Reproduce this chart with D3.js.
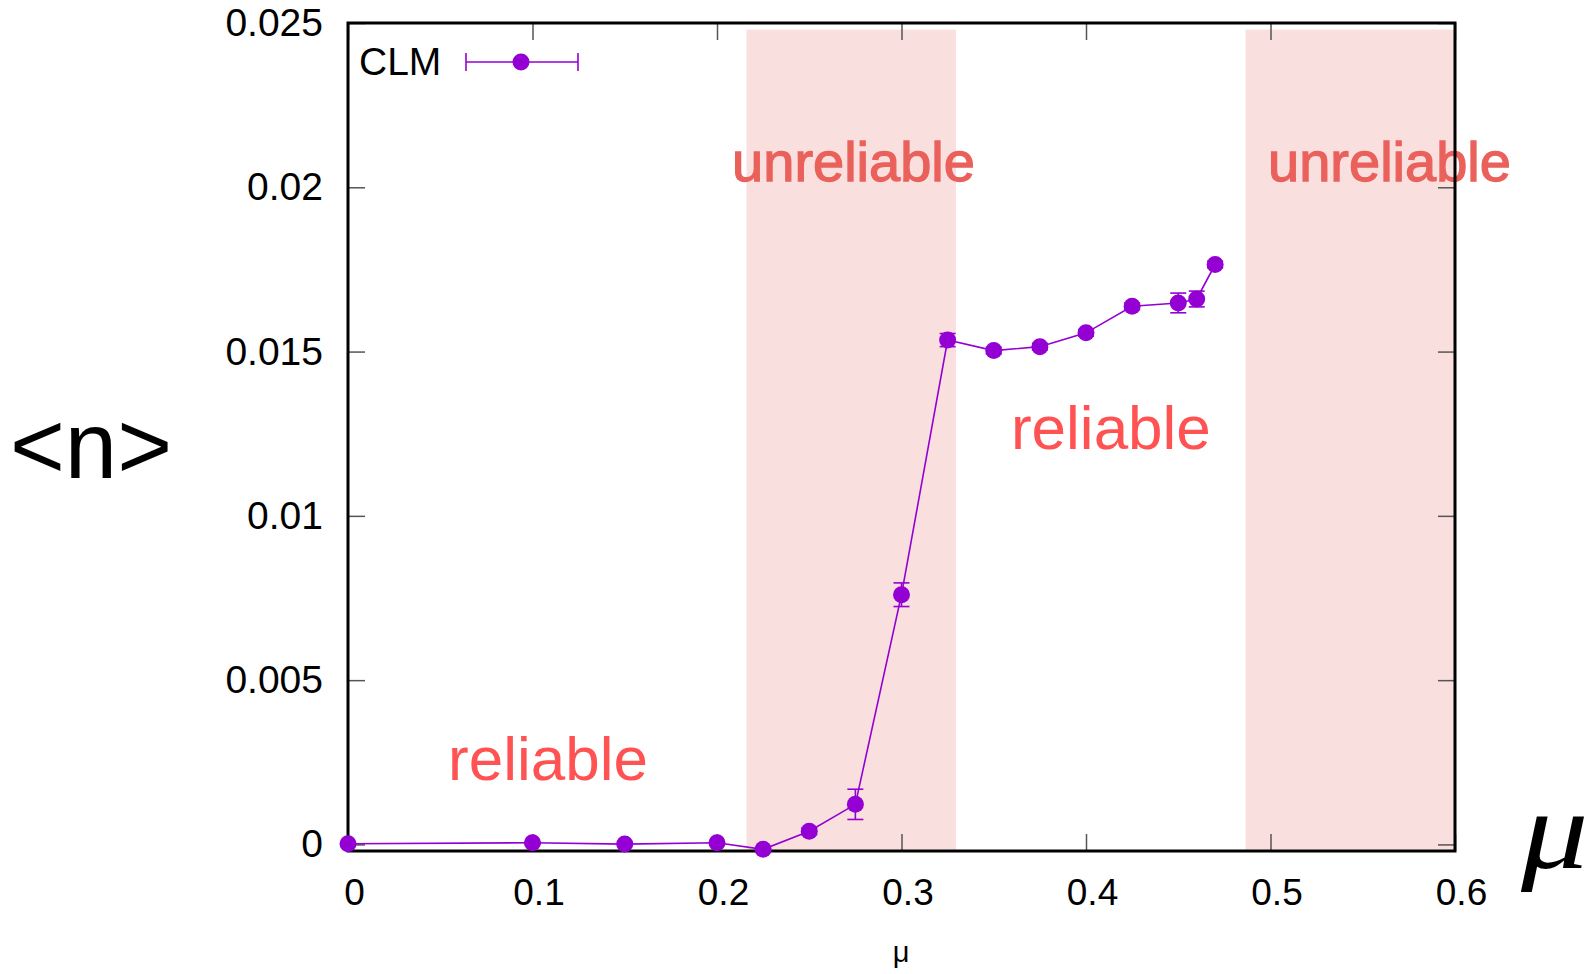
<!DOCTYPE html>
<html>
<head>
<meta charset="utf-8">
<script src="https://cdn.jsdelivr.net/npm/d3@7"></script>
<style>
  body { margin: 0; background: #fff; }
  svg { display: block; }
</style>
</head>
<body>
<div id="chart"></div>
<script>
// Data
const muValues = [0, 0.1, 0.15, 0.2, 0.225, 0.25, 0.275, 0.3, 0.325, 0.35, 0.375, 0.4, 0.425, 0.45, 0.46, 0.47];
const nValues = [0.00002, 0.00005, 0.00001, 0.00005, -0.00015, 0.0004, 0.00122, 0.0076, 0.01535, 0.01503, 0.01515, 0.01557, 0.01638, 0.01648, 0.0166, 0.01765];
const nErrors = [0.00002, 0.00003, 0.00002, 0.00003, 0.00003, 0.0001, 0.00046, 0.00036, 0.0002, 0.0001, 0.0001, 0.0001, 0.0001, 0.0003, 0.00024, 0.0001];
const xTicks = [0, 0.1, 0.2, 0.3, 0.4, 0.5, 0.6];
const xTickLabels = ["0", "0.1", "0.2", "0.3", "0.4", "0.5", "0.6"];
const yTicks = [0, 0.005, 0.01, 0.015, 0.02, 0.025];
const yTickLabels = ["0", "0.005", "0.01", "0.015", "0.02", "0.025"];
const unreliableBands = [[0.216, 0.3295], [0.4865, 0.6]];
const regionLabels = [
    { text: "unreliable", mu: 0.274, n: 0.0202, kind: "bad" },
    { text: "unreliable", mu: 0.5645, n: 0.0202, kind: "bad" },
    { text: "reliable", mu: 0.1084, n: 0.00195, kind: "good" },
    { text: "reliable", mu: 0.4135, n: 0.01205, kind: "good" }
];
const seriesName = "CLM";

const width = 1593, height = 974;
const plot = { left: 348, right: 1455, top: 23, bottom: 851 };
const purple = "#9400d3";
const font = "'Liberation Sans', Arial, Helvetica, sans-serif";

const svg = d3.select("#chart")
    .append("svg")
    .attr("width", width)
    .attr("height", height);

// Scales
const x = d3.scaleLinear().domain([0, 0.6]).range([plot.left, plot.right]);
const y = d3.scaleLinear().domain([-0.0002, 0.025]).range([plot.bottom, plot.top]);

// Shaded bands
svg.selectAll("rect.band")
    .data(unreliableBands)
    .enter()
    .append("rect")
    .attr("class", "band")
    .attr("x", d => x(d[0]))
    .attr("width", d => x(d[1]) - x(d[0]))
    .attr("y", y(0.0248))
    .attr("height", plot.bottom - y(0.0248))
    .attr("fill", "#fadfdf");

// Region labels
const colorFor = d => d.kind === "bad" ? "#ea615c" : "#ff5252";
svg.selectAll("text.region")
    .data(regionLabels)
    .enter()
    .append("text")
    .attr("class", "region")
    .attr("x", d => x(d.mu))
    .attr("y", d => y(d.n))
    .attr("text-anchor", "middle")
    .attr("font-family", font)
    .attr("font-size", d => d.kind === "bad" ? 56 : 62)
    .attr("fill", colorFor)
    .attr("stroke", d => d.kind === "bad" ? colorFor(d) : "none")
    .attr("stroke-width", 1.3)
    .text(d => d.text);

// Axes with inward ticks
const tickLen = 17;
function styleAxis(g, size) {
    g.select(".domain").remove();
    g.selectAll(".tick line").attr("stroke", "#555").attr("stroke-width", 1.5);
    g.selectAll(".tick text").attr("fill", "#000").attr("font-family", font).attr("font-size", size);
}

svg.append("g")
    .attr("transform", `translate(0,${plot.bottom})`)
    .call(d3.axisBottom(x).tickValues(xTicks).tickSizeInner(-tickLen).tickSizeOuter(0)
        .tickPadding(28).tickFormat((d, i) => xTickLabels[i]))
    .call(styleAxis, 37)
    .selectAll(".tick text").attr("dx", 6);

svg.append("g")
    .attr("transform", `translate(0,${plot.top})`)
    .call(d3.axisTop(x).tickValues(xTicks).tickSizeInner(-tickLen).tickSizeOuter(0).tickFormat(""))
    .call(styleAxis, 37);

svg.append("g")
    .attr("transform", `translate(${plot.left},0)`)
    .call(d3.axisLeft(y).tickValues(yTicks).tickSizeInner(-tickLen).tickSizeOuter(0)
        .tickPadding(25).tickFormat((d, i) => yTickLabels[i]))
    .call(styleAxis, 39);

svg.append("g")
    .attr("transform", `translate(${plot.right},0)`)
    .call(d3.axisRight(y).tickValues(yTicks).tickSizeInner(-tickLen).tickSizeOuter(0).tickFormat(""))
    .call(styleAxis, 37);

// Frame
svg.append("rect")
    .attr("x", plot.left)
    .attr("y", plot.top)
    .attr("width", plot.right - plot.left)
    .attr("height", plot.bottom - plot.top)
    .attr("fill", "none")
    .attr("stroke", "#000")
    .attr("stroke-width", 3);

// Series
const points = muValues.map((m, i) => ({ mu: m, n: nValues[i], err: nErrors[i] }));

svg.append("path")
    .datum(points)
    .attr("fill", "none")
    .attr("stroke", purple)
    .attr("stroke-width", 1.6)
    .attr("d", d3.line().x(d => x(d.mu)).y(d => y(d.n)));

const cap = 8;
const bars = svg.selectAll("g.err")
    .data(points)
    .enter()
    .append("g")
    .attr("class", "err")
    .attr("stroke", purple)
    .attr("stroke-width", 1.6);

bars.append("line")
    .attr("x1", d => x(d.mu)).attr("x2", d => x(d.mu))
    .attr("y1", d => y(d.n - d.err)).attr("y2", d => y(d.n + d.err));
bars.append("line")
    .attr("x1", d => x(d.mu) - cap).attr("x2", d => x(d.mu) + cap)
    .attr("y1", d => y(d.n - d.err)).attr("y2", d => y(d.n - d.err));
bars.append("line")
    .attr("x1", d => x(d.mu) - cap).attr("x2", d => x(d.mu) + cap)
    .attr("y1", d => y(d.n + d.err)).attr("y2", d => y(d.n + d.err));

svg.selectAll("circle.pt")
    .data(points)
    .enter()
    .append("circle")
    .attr("class", "pt")
    .attr("cx", d => x(d.mu))
    .attr("cy", d => y(d.n))
    .attr("r", 8.5)
    .attr("fill", purple);

// Legend
const legend = svg.append("g").attr("transform", "translate(0,62)");
legend.append("text")
    .attr("x", 359)
    .attr("y", 13)
    .attr("font-family", font)
    .attr("font-size", 39)
    .text(seriesName);
legend.append("line").attr("x1", 466).attr("x2", 578).attr("y1", 0).attr("y2", 0)
    .attr("stroke", purple).attr("stroke-width", 1.6);
[466, 578].forEach(cx => legend.append("line")
    .attr("x1", cx).attr("x2", cx).attr("y1", -9).attr("y2", 9)
    .attr("stroke", purple).attr("stroke-width", 1.6));
legend.append("circle").attr("cx", 521).attr("cy", 0).attr("r", 8.5).attr("fill", purple);

// Axis titles
svg.append("text")
    .attr("x", 901)
    .attr("y", 962)
    .attr("text-anchor", "middle")
    .attr("font-family", font)
    .attr("font-size", 29)
    .text("μ");

svg.append("text")
    .attr("transform", "translate(1521,868) scale(1.2,1)")
    .attr("font-family", "'Liberation Serif', 'DejaVu Serif', serif")
    .attr("font-style", "italic")
    .attr("font-size", 112)
    .text("μ");

svg.append("text")
    .attr("x", 91)
    .attr("y", 478)
    .attr("text-anchor", "middle")
    .attr("font-family", font)
    .attr("font-size", 94)
    .text("<n>");
</script>
</body>
</html>
